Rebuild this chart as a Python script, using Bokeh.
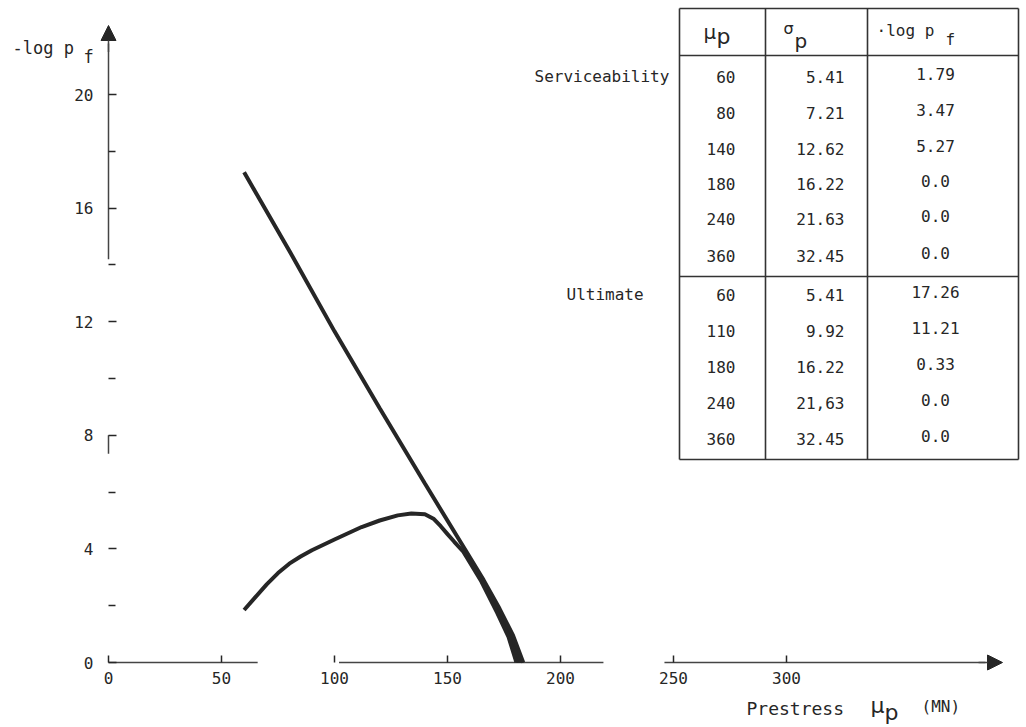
from bokeh.plotting import figure
from bokeh.models import Range1d, LinearAxis, FixedTicker, Arrow, NormalHead
from bokeh.core.properties import value
from bokeh.embed import file_html
from bokeh.resources import INLINE

# ---------------- data ----------------
# Serviceability curve (prestress mu_p in MN, -log p_f)
serv_mu = [60, 65, 70, 75, 80, 85, 90, 100, 112, 120, 128, 134, 140, 144, 147, 150, 153, 157, 165, 172, 177, 180.5]
serv_logpf = [1.85, 2.3, 2.75, 3.15, 3.48, 3.73, 3.95, 4.33, 4.77, 5.0, 5.18, 5.25, 5.22, 5.05, 4.8, 4.52, 4.25, 3.9, 2.85, 1.75, 0.9, 0.0]
# Ultimate curve
ult_mu = [60, 80, 100, 120, 140, 158, 166, 173, 179, 183.5]
ult_logpf = [17.26, 14.5, 11.66, 8.95, 6.3, 3.95, 2.9, 1.9, 0.95, 0.0]

# Table
serv_tab_mu = ["60", "80", "140", "180", "240", "360"]
serv_tab_sigma = ["5.41", "7.21", "12.62", "16.22", "21.63", "32.45"]
serv_tab_logpf = ["1.79", "3.47", "5.27", "0.0", "0.0", "0.0"]
ult_tab_mu = ["60", "110", "180", "240", "360"]
ult_tab_sigma = ["5.41", "9.92", "16.22", "21,63", "32.45"]
ult_tab_logpf = ["17.26", "11.21", "0.33", "0.0", "0.0"]

x_ticks = [0, 50, 100, 150, 200, 250, 300]
y_ticks = [0, 4, 8, 12, 16, 20]
y_minor = [2, 6, 10, 14, 18]

# ---------------- layout helpers ----------------
W, H = 1026, 727
X0PX, SX = 108.0, 2.26
Y0PX, SY = 662.0, 28.4


def xd(px):
    return (px - X0PX) / SX


def yd(py):
    return (Y0PX - py) / SY


INK = "#262626"
MONO = "DejaVu Sans Mono"

p = figure(width=W, height=H, output_backend="svg", toolbar_location=None,
           x_axis_type=None, y_axis_type=None, min_border=0,
           x_range=Range1d(xd(0), xd(W)), y_range=Range1d(yd(H), yd(0)))
p.outline_line_color = None
p.grid.visible = False
p.background_fill_color = "white"

# ---------------- axes ----------------
xaxis = LinearAxis(fixed_location=0, ticker=FixedTicker(ticks=x_ticks, minor_ticks=[]),
                   axis_line_color=None, major_tick_in=7, major_tick_out=0,
                   minor_tick_line_color=None,
                   major_tick_line_color=INK, major_tick_line_width=1.5,
                   major_label_text_font=MONO, major_label_text_font_size="16px",
                   major_label_text_color=INK, major_label_standoff=9)
p.add_layout(xaxis, "below")

yaxis = LinearAxis(fixed_location=0, ticker=FixedTicker(ticks=y_ticks, minor_ticks=y_minor),
                   axis_line_color=None, major_tick_in=8, major_tick_out=0,
                   minor_tick_in=7, minor_tick_out=0,
                   major_tick_line_color=INK, major_tick_line_width=1.5,
                   minor_tick_line_color=INK, minor_tick_line_width=1.5,
                   major_label_text_font=MONO, major_label_text_font_size="16px",
                   major_label_text_color=INK, major_label_standoff=15)
p.add_layout(yaxis, "left")

# broken axis lines as in the scan
p.segment(x0=[0, 102, 246], y0=[0, 0, 0], x1=[66, 219, 388], y1=[0, 0, 0],
          line_color="#444444", line_width=1.5)
p.segment(x0=[0, 0], y0=[14.2, 7.35], x1=[0, 0], y1=[21.8, 8.0],
          line_color="#444444", line_width=1.5)
p.add_layout(Arrow(end=NormalHead(size=15, fill_color=INK, line_color=INK),
                   x_start=0, y_start=21.5, x_end=0, y_end=yd(25),
                   line_color="#444444", line_width=1.5))
p.add_layout(Arrow(end=NormalHead(size=15, fill_color=INK, line_color=INK),
                   x_start=385, y_start=0, x_end=xd(1002), y_end=0,
                   line_color="#444444", line_width=1.5))

# ---------------- curves ----------------
# merged thick band where both curves run together (tails of both series)
s_tail = serv_mu.index(157)
u_tail = ult_mu.index(158)
band_x = serv_mu[s_tail:] + ult_mu[u_tail:][::-1]
band_y = serv_logpf[s_tail:] + ult_logpf[u_tail:][::-1]
p.patch(band_x, band_y, fill_color=INK, line_color=INK, line_width=1)
p.line(ult_mu, ult_logpf, line_color=INK, line_width=4)
p.line(serv_mu, serv_logpf, line_color=INK, line_width=4)

# ---------------- axis titles ----------------
p.text(x=[xd(12)], y=[yd(47)], text=["-log p"], text_font=value(MONO),
       text_font_size="17px", text_color=INK, text_align="left", text_baseline="middle")
p.text(x=[xd(83)], y=[yd(56)], text=["f"], text_font=value(MONO),
       text_font_size="17px", text_color=INK, text_align="left", text_baseline="middle")

p.text(x=[xd(746)], y=[yd(708)], text=["Prestress"], text_font=value(MONO),
       text_font_size="18px", text_color=INK, text_align="left", text_baseline="middle")
p.text(x=[xd(870)], y=[yd(705)], text=["\u03bc"], text_font=value("DejaVu Sans"),
       text_font_size="22px", text_color=INK, text_align="left", text_baseline="middle")
p.text(x=[xd(884)], y=[yd(712)], text=["p"], text_font=value("DejaVu Sans"),
       text_font_size="22px", text_color=INK, text_align="left", text_baseline="middle")
p.text(x=[xd(921)], y=[yd(706)], text=["(MN)"], text_font=value(MONO),
       text_font_size="16px", text_color=INK, text_align="left", text_baseline="middle")

# ---------------- table ----------------
TL, TR, TT, TB = 679, 1018, 8, 459
C1, C2 = 765, 867
HB, DIV = 55, 276
p.segment(x0=[xd(TL), xd(TL), xd(TL), xd(TL), xd(TL), xd(TR), xd(C1), xd(C2)],
          y0=[yd(TT), yd(HB), yd(DIV), yd(TB), yd(TT), yd(TT), yd(TT), yd(TT)],
          x1=[xd(TR), xd(TR), xd(TR), xd(TR), xd(TL), xd(TR), xd(C1), xd(C2)],
          y1=[yd(TT), yd(HB), yd(DIV), yd(TB), yd(TB), yd(TB), yd(TB), yd(TB)],
          line_color="#333333", line_width=1.6)

# header
p.text(x=[xd(703)], y=[yd(31)], text=["\u03bc"], text_font=value("DejaVu Sans"),
       text_font_size="20px", text_color=INK, text_align="left", text_baseline="middle")
p.text(x=[xd(716)], y=[yd(36)], text=["p"], text_font=value("DejaVu Sans"),
       text_font_size="22px", text_color=INK, text_align="left", text_baseline="middle")
p.text(x=[xd(783)], y=[yd(28)], text=["\u03c3"], text_font=value("DejaVu Sans"),
       text_font_size="16px", text_color=INK, text_align="left", text_baseline="middle")
p.text(x=[xd(794)], y=[yd(40)], text=["p"], text_font=value("DejaVu Sans"),
       text_font_size="20px", text_color=INK, text_align="left", text_baseline="middle")
p.text(x=[xd(876)], y=[yd(30)], text=["\u00b7log p"], text_font=value(MONO),
       text_font_size="16px", text_color=INK, text_align="left", text_baseline="middle")
p.text(x=[xd(945)], y=[yd(39)], text=["f"], text_font=value(MONO),
       text_font_size="16px", text_color=INK, text_align="left", text_baseline="middle")

# group labels
p.text(x=[xd(534)], y=[yd(76)], text=["Serviceability"], text_font=value(MONO),
       text_font_size="16px", text_color=INK, text_align="left", text_baseline="middle")
p.text(x=[xd(566)], y=[yd(294)], text=["Ultimate"], text_font=value(MONO),
       text_font_size="16px", text_color=INK, text_align="left", text_baseline="middle")

serv_rows = [76, 112, 148, 183, 218, 255]
ult_rows = [294, 330, 366, 402, 438]
for mus, sig, lp, rows in [(serv_tab_mu, serv_tab_sigma, serv_tab_logpf, serv_rows),
                           (ult_tab_mu, ult_tab_sigma, ult_tab_logpf, ult_rows)]:
    ys = [yd(r) for r in rows]
    ys3 = [yd(r - 3) for r in rows]
    p.text(x=[xd(735)] * len(mus), y=ys, text=mus, text_font=value(MONO),
           text_font_size="16px", text_color=INK, text_align="right", text_baseline="middle")
    p.text(x=[xd(844)] * len(sig), y=ys, text=sig, text_font=value(MONO),
           text_font_size="16px", text_color=INK, text_align="right", text_baseline="middle")
    p.text(x=[xd(935)] * len(lp), y=ys3, text=lp, text_font=value(MONO),
           text_font_size="16px", text_color=INK, text_align="center", text_baseline="middle")

open("out.html", "w").write(file_html(p, INLINE))
